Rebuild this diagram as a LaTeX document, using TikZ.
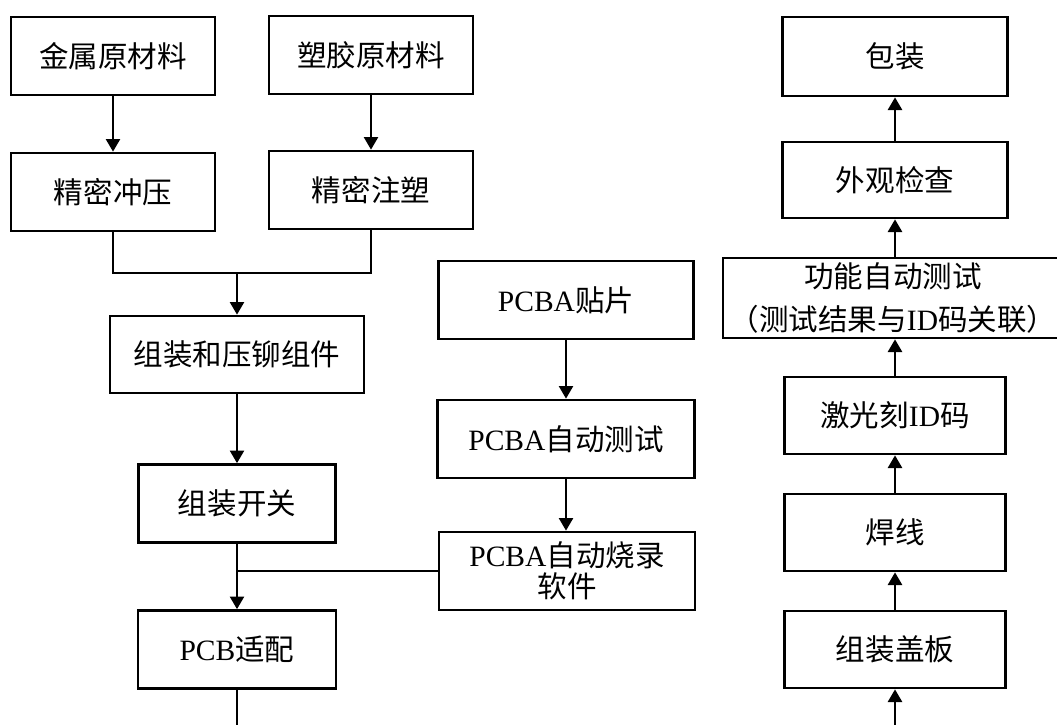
\documentclass[tikz,border=0pt]{standalone}
\usepackage{fontspec}
\setmainfont{Liberation Serif}
\newfontfamily\cjk{Noto Sans CJK SC}
\usetikzlibrary{arrows.meta}
\newcommand{\zh}[1]{{\cjk #1}}

\begin{document}
\begin{tikzpicture}[x=0.025cm,y=-0.025cm,
		box/.style={draw,line width=1.9pt,inner sep=0pt,align=center,minimum width=#1,minimum height=1.95cm,font=\fontsize{21pt}{22pt}\selectfont},
		flow/.style={line width=1.7pt},
		>={Triangle[width=10pt,length=9pt]}]
		\useasboundingbox (0,0) rectangle (1057,724);

		\node[box=5.1cm] (metal) at (113,56) {\zh{金属原材料}};
		\node[box=5.1cm] (plastic) at (371,55) {\zh{塑胶原材料}};
		\node[box=5.1cm] (stamp) at (113,192) {\zh{精密冲压}};
		\node[box=5.1cm] (mold) at (371,190) {\zh{精密注塑}};
		\node[box=6.35cm,minimum height=1.925cm] (rivet) at (237,354.5) {\zh{组装和压铆组件}};
		\node[box=4.925cm] (switch) at (237,503.5) {\zh{组装开关}};
		\node[box=4.95cm] (pcb) at (237,649.5) {PCB\zh{适配}};

		\node[box=6.375cm] (smt) at (566,300) {PCBA\zh{贴片}};
		\node[box=6.425cm] (atest) at (566,439) {PCBA\zh{自动测试}};
		\node[box=6.4cm] (burn) at (567,571) {PCBA\zh{自动烧录}\\\zh{软件}};

		\node[box=5.625cm,minimum height=1.975cm] (pack) at (895,56.5) {\zh{包装}};
		\node[box=5.625cm,minimum height=1.9cm] (look) at (895,180) {\zh{外观检查}};
		\node[box=8.5cm,minimum height=2cm,font=\fontsize{21pt}{31pt}\selectfont] (func) at (893,298) {\zh{功能自动测试}\\\zh{（测试结果与}ID\zh{码关联）}};
		\node[box=5.525cm,minimum height=1.925cm] (laser) at (895,415.5) {\zh{激光刻}ID\zh{码}};
		\node[box=5.525cm,minimum height=1.925cm] (weld) at (895,532.5) {\zh{焊线}};
		\node[box=5.525cm,minimum height=1.925cm] (cover) at (895,649.5) {\zh{组装盖板}};

		\coordinate (join) at (237,273);
		\coordinate (pcbout) at (237,730);
		\coordinate (coverin) at (895,730);

		\draw[flow,->] (metal) -- (stamp);
		\draw[flow,->] (plastic) -- (mold);
		\draw[flow] (stamp.south) |- (join) -| (mold.south);
		\draw[flow,->] (join) -- (rivet);
		\draw[flow,->] (rivet) -- (switch);
		\draw[flow,->] (switch) -- (pcb);
		\draw[flow] (burn.west) -- (switch.south |- burn.west);
		\draw[flow] (pcb) -- (pcbout);

		\draw[flow,->] (smt) -- (atest.north -| smt.south);
		\draw[flow,->] (atest) -- (burn.north -| atest.south);

		\draw[flow,->] (coverin) -- (cover);
		\draw[flow,->] (cover) -- (weld);
		\draw[flow,->] (weld) -- (laser);
		\draw[flow,->] (laser.north) -- (laser.north |- func.south);
		\draw[flow,->] (look.south |- func.north) -- (look.south);
		\draw[flow,->] (look) -- (pack);
	\end{tikzpicture}
\end{document}
